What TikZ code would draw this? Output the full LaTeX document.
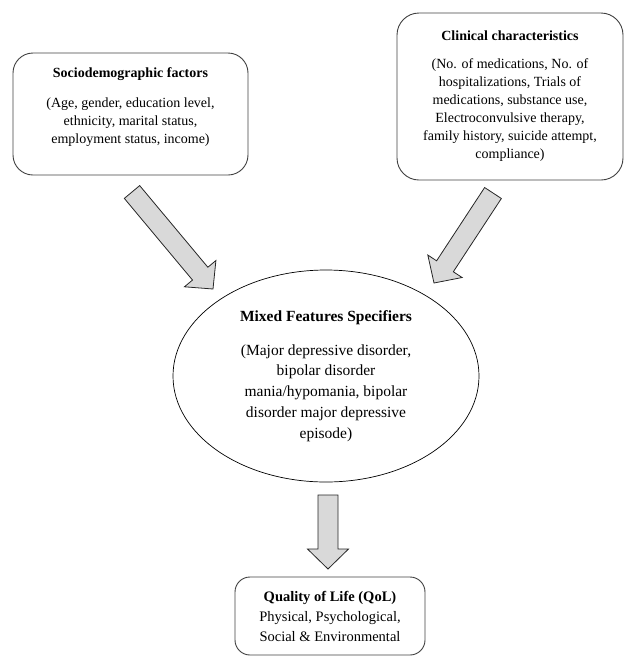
\documentclass[tikz,border=0pt]{standalone}
\usepackage{fontspec}
\setmainfont{Liberation Serif}
\usetikzlibrary{calc,shapes.geometric}
\tikzset{factor/.style={draw=black!75,line width=0.9pt,rounded corners=20pt,align=center,inner sep=3pt}}
\tikzset{fatarrow/.style={draw=black!85,fill=gray!30,line width=0.8pt,line join=miter,
    to path={let \p1=($(\tikztotarget)!20pt!(\tikztostart)$) in
      ($(\tikztostart)!10pt!90:(\tikztotarget)$) -- ($(\p1)!10pt!90:(\tikztotarget)$)
      -- ($(\p1)!20.5pt!90:(\tikztotarget)$) -- (\tikztotarget)
      -- ($(\p1)!20.5pt!-90:(\tikztotarget)$) -- ($(\p1)!10pt!-90:(\tikztotarget)$)
      -- ($(\tikztostart)!10pt!-90:(\tikztotarget)$) -- cycle}}}

\begin{document}
\begin{tikzpicture}[x=1pt,y=-1pt]
                \useasboundingbox (0,0) rectangle (624,657);
                \node [factor,minimum width=235pt,minimum height=122pt,
                    font=\fontsize{14}{18}\selectfont] (socio) at (130.5,114)
                    {\textbf{Sociodemographic factors}\\[12pt]
                     (Age, gender, education level,\\
                     ethnicity, marital status,\\
                     employment status, income)\rule[-17pt]{0pt}{17pt}};
                \node [factor,rounded corners=22pt,minimum width=226pt,minimum height=167pt,
                    font=\fontsize{14}{18}\selectfont] (clinical) at (510,96.5)
                    {\textbf{Clinical characteristics}\\[10pt]
                     (No. of medications, No. of\\
                     hospitalizations, Trials of\\
                     medications, substance use,\\
                     Electroconvulsive therapy,\\
                     family history, suicide attempt,\\
                     compliance)};
                \node [draw,ellipse,line width=0.7pt,minimum width=306pt,minimum height=212pt,
                    inner sep=0pt,align=center,font=\fontsize{15.5}{20.7}\selectfont] (mixed) at (326,376)
                    {\textbf{Mixed Features Specifiers}\\[13pt]
                     (Major depressive disorder,\\
                     bipolar disorder\\
                     mania/hypomania, bipolar\\
                     disorder major depressive\\
                     episode)};
                \node [factor,rounded corners=15pt,minimum width=190pt,minimum height=78pt,
                    font=\fontsize{14.5}{20}\selectfont] (qol) at (330,616)
                    {\textbf{Quality of Life (QoL)}\\
                     Physical, Psychological,\\
                     Social \& Environmental};
                % block arrows
                \coordinate (socio-out) at (132,192);
                \coordinate (socio-in) at (213,289);
                \coordinate (clin-out) at (493,193);
                \coordinate (clin-in) at (434,283);
                \coordinate (mixed-out) at (328,495);
                \coordinate (qol-in) at (328,569);
                \draw [fatarrow] (socio-out) to (socio-in);
                \draw [fatarrow] (clin-out) to (clin-in);
                \draw [fatarrow] (mixed-out) to (qol-in);
            \end{tikzpicture}
\end{document}
